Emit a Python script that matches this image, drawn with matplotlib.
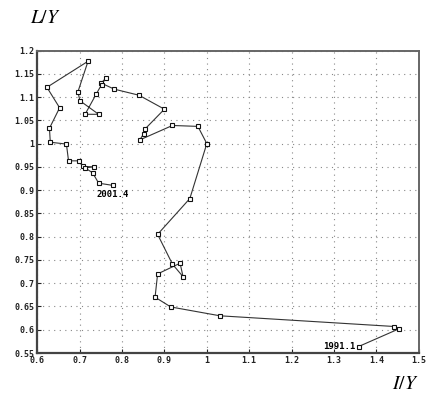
import matplotlib
matplotlib.use("Agg")
import matplotlib.pyplot as plt

# I/Y (x) and L/Y (y), quarterly 1991.1 -> 2001.4
iy = [1.358, 1.453, 1.442, 1.031, 0.915, 0.878, 0.884, 0.937, 0.944, 0.919,
      0.884, 0.960, 1.000, 0.979, 0.919, 0.842, 0.851, 0.855, 0.900, 0.840,
      0.782, 0.751, 0.763, 0.752, 0.739, 0.713, 0.745, 0.701, 0.696, 0.720,
      0.623, 0.653, 0.629, 0.631, 0.669, 0.674, 0.699, 0.709, 0.735, 0.713,
      0.731, 0.745, 0.780]
ly = [0.564, 0.602, 0.607, 0.630, 0.649, 0.670, 0.720, 0.743, 0.714, 0.741,
      0.805, 0.882, 1.000, 1.037, 1.039, 1.008, 1.021, 1.032, 1.074, 1.104,
      1.117, 1.130, 1.142, 1.127, 1.106, 1.063, 1.063, 1.092, 1.111, 1.177,
      1.121, 1.077, 1.033, 1.003, 0.999, 0.963, 0.963, 0.951, 0.950, 0.948,
      0.937, 0.915, 0.910]
xticks = [0.6, 0.7, 0.8, 0.9, 1.0, 1.1, 1.2, 1.3, 1.4, 1.5]
xticklabels = ["0.6", "0.7", "0.8", "0.9", "1", "1.1", "1.2", "1.3", "1.4", "1.5"]
yticks = [0.55, 0.6, 0.65, 0.7, 0.75, 0.8, 0.85, 0.9, 0.95, 1.0, 1.05, 1.1, 1.15, 1.2]
yticklabels = ["0.55", "0.6", "0.65", "0.7", "0.75", "0.8", "0.85", "0.9", "0.95",
               "1", "1.05", "1.1", "1.15", "1.2"]
start_label = "1991.1"
end_label = "2001.4"

fig = plt.figure(figsize=(4.27, 3.98), dpi=100)
ax = fig.add_axes([0.087, 0.113, 0.894, 0.760])

ax.plot(iy, ly, color="#333333", linewidth=0.8, marker="s", markersize=3.5,
        markerfacecolor="white", markeredgecolor="#111111", markeredgewidth=0.8,
        zorder=3)

ax.set_xlim(0.6, 1.5)
ax.set_ylim(0.55, 1.2)
ax.set_xticks(xticks)
ax.set_xticklabels(xticklabels)
ax.set_yticks(yticks)
ax.set_yticklabels(yticklabels)

tickfont = dict(family="DejaVu Sans Mono", weight="bold", size=6)
for lab in ax.get_xticklabels() + ax.get_yticklabels():
    lab.set_fontfamily(tickfont["family"])
    lab.set_fontweight(tickfont["weight"])
    lab.set_fontsize(tickfont["size"])

ax.tick_params(direction="in", length=3, width=0.8, pad=2, colors="#222222")
ax.grid(True, color="#888888", linestyle=(0, (1, 4)), linewidth=0.8)

for side in ["left", "bottom"]:
    ax.spines[side].set_linewidth(1.6)
    ax.spines[side].set_color("#444444")
for side in ["top", "right"]:
    ax.spines[side].set_linewidth(1.4)
    ax.spines[side].set_color("#666666")

ax.text(iy[0] - 0.008, ly[0], start_label, ha="right", va="center",
        fontfamily="DejaVu Sans Mono", fontweight="bold", fontsize=6.5)
ax.text(iy[-1] - 0.002, ly[-1] - 0.01, end_label, ha="center", va="top",
        fontfamily="DejaVu Sans Mono", fontweight="bold", fontsize=6.5)

fig.text(45 / 427, 1 - 18 / 398, "$L/Y$", ha="center", va="center",
         fontsize=14, fontfamily="DejaVu Serif", math_fontfamily="stix")
fig.text(405 / 427, 1 - 384 / 398, "$I/Y$", ha="center", va="center",
         fontsize=14, fontfamily="DejaVu Serif", math_fontfamily="stix")

fig.savefig("out.png", dpi=100)
